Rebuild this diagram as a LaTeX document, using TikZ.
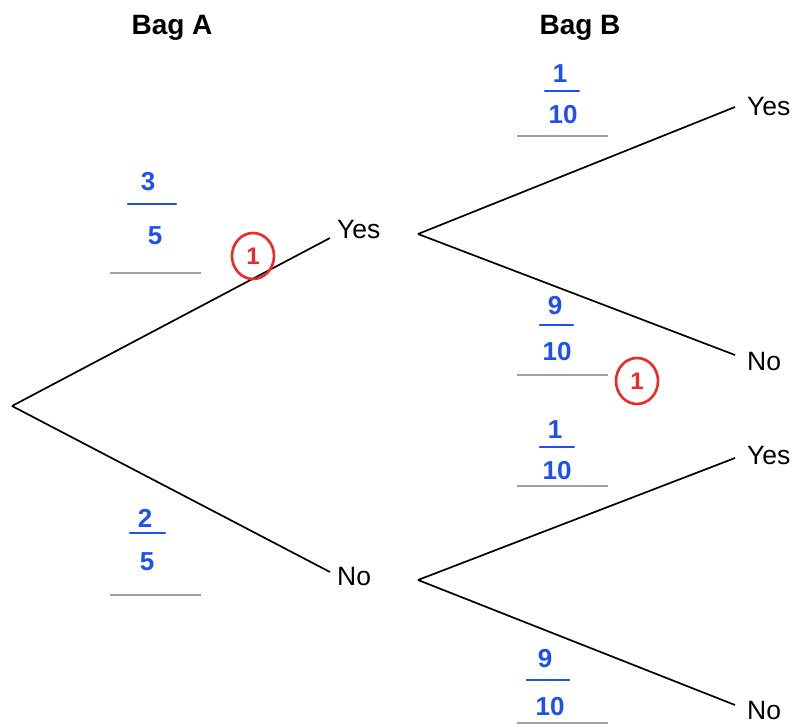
\documentclass[tikz,border=0pt]{standalone}
\usepackage{fontspec}
\usetikzlibrary{shapes.geometric}
\setmainfont{Liberation Sans}
\definecolor{hand}{RGB}{30,80,240}
\definecolor{mark}{RGB}{240,40,40}
\definecolor{ans}{RGB}{160,160,160}
\begin{document}
\begin{tikzpicture}[x=1pt,y=-1pt,
  lbl/.style={font=\fontsize{26.5}{29}\selectfont, inner sep=0pt},
  head/.style={font=\fontsize{28}{32}\selectfont\bfseries, inner sep=0pt},
  dig/.style={font=\fontsize{26}{30}\selectfont\bfseries, text=hand, inner sep=0pt},
  branch/.style={line width=1.7pt, black},
  ansline/.style={line width=1.6pt, ans},
  fbar/.style={line width=2.4pt, hand, line cap=round},
  ring/.style={ellipse, draw=mark, line width=2.6pt, minimum width=42pt, minimum height=46pt, inner sep=0pt, text=mark, font=\fontsize{24}{26}\selectfont\bfseries}]
\useasboundingbox (0,0) rectangle (798,725);
\node[head] (bagA) at (172,28) {Bag A};
\node[head] (bagB) at (580,28) {Bag B};
\coordinate (root) at (12,406);
\node[lbl, anchor=west] (y1) at (337,230) {Yes};
\node[lbl, anchor=west] (n1) at (337,577) {No};
\node[lbl, anchor=west] (yy) at (747,107) {Yes};
\node[lbl, anchor=west] (yn) at (747,362) {No};
\node[lbl, anchor=west] (ny) at (747,456) {Yes};
\node[lbl, anchor=west] (nn) at (747,711) {No};
\coordinate (y1a) at (330,238);
\coordinate (n1a) at (330,572);
\coordinate (y1b) at (418,234);
\coordinate (n1b) at (418,580);
\coordinate (yya) at (735,107);
\coordinate (yna) at (735,355);
\coordinate (nya) at (735,458);
\coordinate (nna) at (735,705);
\draw[branch] (root) -- (y1a);
\draw[branch] (root) -- (n1a);
\draw[branch] (y1b) -- (yya);
\draw[branch] (y1b) -- (yna);
\draw[branch] (n1b) -- (nya);
\draw[branch] (n1b) -- (nna);
% answer lines
\coordinate (a1l) at (110,273); \coordinate (a1r) at (201,273);
\coordinate (a2l) at (110,595); \coordinate (a2r) at (201,595);
\coordinate (a3l) at (517,136); \coordinate (a3r) at (608,136);
\coordinate (a4l) at (517,375); \coordinate (a4r) at (608,375);
\coordinate (a5l) at (517,486); \coordinate (a5r) at (608,486);
\coordinate (a6l) at (517,723); \coordinate (a6r) at (608,723);
\draw[ansline] (a1l) -- (a1r);
\draw[ansline] (a2l) -- (a2r);
\draw[ansline] (a3l) -- (a3r);
\draw[ansline] (a4l) -- (a4r);
\draw[ansline] (a5l) -- (a5r);
\draw[ansline] (a6l) -- (a6r);
% fractions
\node[dig] (f1n) at (148,182) {3};
\coordinate (f1a) at (128,204); \coordinate (f1b) at (176,204);
\draw[fbar] (f1a) -- (f1b);
\node[dig] (f1d) at (155,236) {5};
\node[dig] (f2n) at (145,518) {2};
\coordinate (f2a) at (130,533); \coordinate (f2b) at (165,533);
\draw[fbar] (f2a) -- (f2b);
\node[dig] (f2d) at (147,562) {5};
\node[dig] (f3n) at (560,74) {1};
\coordinate (f3a) at (545,91); \coordinate (f3b) at (579,91);
\draw[fbar] (f3a) -- (f3b);
\node[dig] (f3d) at (563,115) {10};
\node[dig] (f4n) at (555,306) {9};
\coordinate (f4a) at (540,325); \coordinate (f4b) at (573,325);
\draw[fbar] (f4a) -- (f4b);
\node[dig] (f4d) at (557,352) {10};
\node[dig] (f5n) at (555,430) {1};
\coordinate (f5a) at (540,447); \coordinate (f5b) at (574,447);
\draw[fbar] (f5a) -- (f5b);
\node[dig] (f5d) at (557,471) {10};
\node[dig] (f6n) at (545,659) {9};
\coordinate (f6a) at (527,680); \coordinate (f6b) at (569,680);
\draw[fbar] (f6a) -- (f6b);
\node[dig] (f6d) at (550,707) {10};
% marks
\node[ring] (m1) at (253,256) {1};
\node[ring] (m2) at (637,381) {1};
\end{tikzpicture}
\end{document}
